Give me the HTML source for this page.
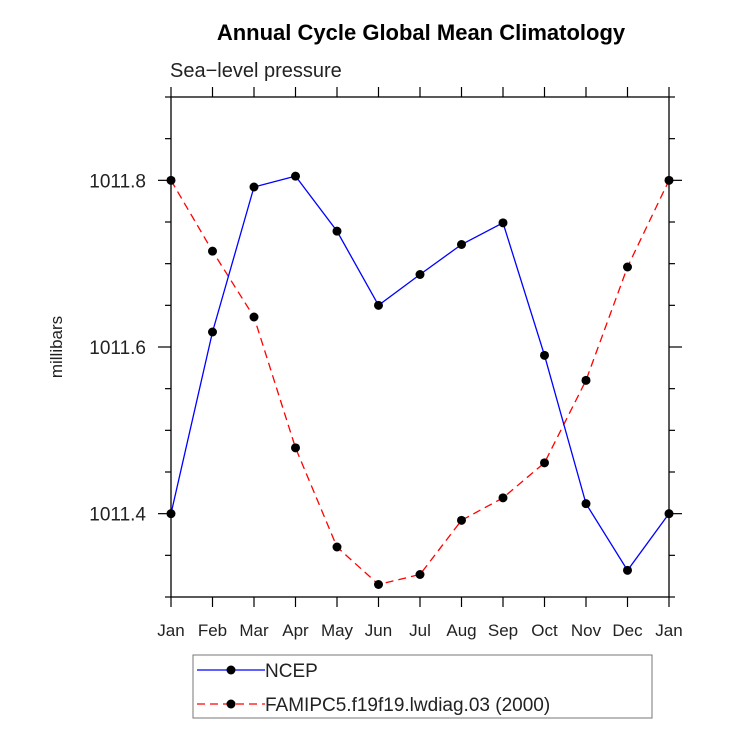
<!DOCTYPE html>
<html><head><meta charset="utf-8"><style>
html,body{margin:0;padding:0;background:#fff;}
svg{display:block;font-family:"Liberation Sans",sans-serif;}
</style></head><body>
<svg id="chart" width="733" height="742">
<text x="421" y="40" text-anchor="middle" font-size="22" font-weight="bold">Annual Cycle Global Mean Climatology</text>
<text x="170" y="77" font-size="20" fill="#222">Sea−level pressure</text>
<text transform="translate(62,347) rotate(-90)" text-anchor="middle" font-size="17" fill="#222">millibars</text>
<g id="axes"></g>
<g id="series"></g>
<rect x="193" y="655" width="459" height="63" fill="none" stroke="#777"/>
<g>
<line x1="197" y1="670" x2="265" y2="670" stroke="#0000ff" stroke-width="1.3"/>
<circle cx="231" cy="670" r="4.5"/>
<text x="265" y="677" font-size="19" fill="#222">NCEP</text></g>
<g>
<line x1="197" y1="704" x2="265" y2="704" stroke="#ff0000" stroke-width="1.3" stroke-dasharray="8,5"/>
<circle cx="231" cy="704" r="4.5"/>
<text x="265" y="711" font-size="19" fill="#222">FAMIPC5.f19f19.lwdiag.03 (2000)</text></g>
</svg>
<script>
const months=["Jan","Feb","Mar","Apr","May","Jun","Jul","Aug","Sep","Oct","Nov","Dec","Jan"];
const ncep=[1011.400,1011.618,1011.792,1011.805,1011.739,1011.650,1011.687,1011.723,1011.749,1011.590,1011.412,1011.332,1011.400];
const famipc5=[1011.800,1011.715,1011.636,1011.479,1011.360,1011.315,1011.327,1011.392,1011.419,1011.461,1011.560,1011.696,1011.800];
const yTicks=[1011.4,1011.6,1011.8];
const yTickLabels=["1011.4","1011.6","1011.8"];
const yMin=1011.3,yMax=1011.9;
const L=171,R=669,T=97,B=597;
const NS="http://www.w3.org/2000/svg";
function xs(i){return L+(R-L)*i/(months.length-1);}
function ys(v){return B-(v-yMin)/(yMax-yMin)*(B-T);}
function mk(tag,attrs,parent){const e=document.createElementNS(NS,tag);for(const k in attrs)e.setAttribute(k,attrs[k]);parent.appendChild(e);return e;}
const ax=document.getElementById('axes');
const frame=mk('rect',{x:L,y:T,width:R-L,height:B-T,fill:'none',stroke:'#000','stroke-width':1.3},ax);


for(let v=yMin;v<=yMax+1e-9;v+=0.05){
  const y=ys(v);const major=yTicks.some(t=>Math.abs(t-v)<1e-6);const len=major?13:6;
  const t1=mk('line',{x1:L-len,y1:y,x2:L,y2:y,stroke:'#000','stroke-width':1.2},ax);
  
  
  const t2=mk('line',{x1:R,y1:y,x2:R+len,y2:y,stroke:'#000','stroke-width':1.2},ax);
  
  
}
yTicks.forEach((v,i)=>{
  const t=mk('text',{x:146,y:ys(v)+7,'text-anchor':'end','font-size':19,fill:'#222'},ax);
  t.textContent=yTickLabels[i];
  
  
});
months.forEach((m,i)=>{
  const x=xs(i);
  const tk=mk('line',{x1:x,y1:B,x2:x,y2:B+10,stroke:'#000','stroke-width':1.2},ax);
  
  
  const tp=mk('line',{x1:x,y1:T-10,x2:x,y2:T,stroke:'#000','stroke-width':1.2},ax);
  
  
  const t=mk('text',{x:x,y:636,'text-anchor':'middle','font-size':17,fill:'#222'},ax);
  t.textContent=m;
  
  
});
const sg=document.getElementById('series');
function drawSeries(vals,color,dash,name){
  const g=mk('g',{},sg);
  
  
  const p=mk('polyline',{points:vals.map((v,i)=>xs(i)+','+ys(v)).join(' '),fill:'none',stroke:color,'stroke-width':1.3,'stroke-dasharray':dash},g);
  
  
  vals.forEach((v,i)=>{
    const c=mk('circle',{cx:xs(i),cy:ys(v),r:4.5,fill:'#000'},g);
    
    
  });
}
drawSeries(famipc5,'#ff0000','8,5','famipc5-series');
drawSeries(ncep,'#0000ff','none','ncep-series');
</script>
</body></html>
